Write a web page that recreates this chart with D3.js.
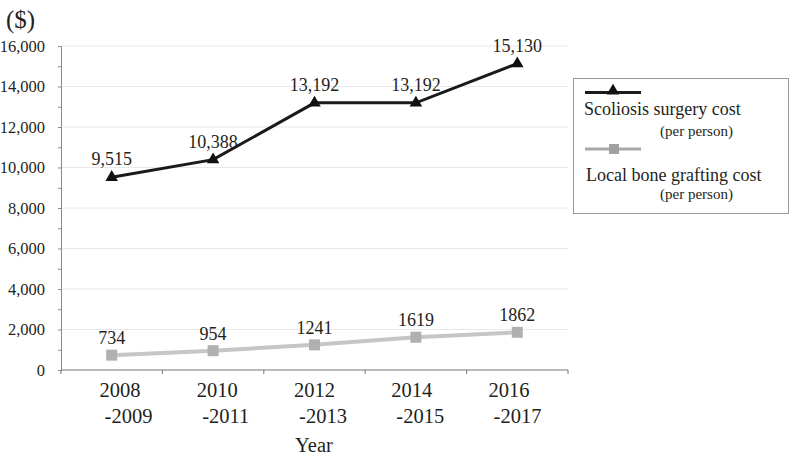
<!DOCTYPE html>
<html><head><meta charset="utf-8">
<script src="https://cdn.jsdelivr.net/npm/d3@7"></script>
</head><body style="margin:0;background:#fff"><svg id="c" width="790" height="458"></svg>
<script>
const categories = [["2008","-2009"],["2010","-2011"],["2012","-2013"],["2014","-2015"],["2016","-2017"]];
const surgery = [9515, 10388, 13192, 13192, 15130];
const surgeryLabels = ["9,515","10,388","13,192","13,192","15,130"];
const grafting = [734, 954, 1241, 1619, 1862];
const graftingLabels = ["734","954","1241","1619","1862"];
const yTicks = [0,2000,4000,6000,8000,10000,12000,14000,16000];

const FF = "Liberation Serif";
const TC = "#231f20";
const svg = d3.select("#c");
const m = {l:61, r:568, t:46, b:370};
const x = d3.scaleBand().domain(d3.range(categories.length)).range([m.l, m.r]);
const xLab = d3.scalePoint().domain(d3.range(categories.length)).range([120, 509]);
const y = d3.scaleLinear().domain([0,16000]).range([m.b, m.t]);

// gridlines
svg.append("g").selectAll("line").data(yTicks.filter(d=>d>0)).join("line")
  .attr("x1", m.l).attr("x2", m.r).attr("y1", d=>y(d)).attr("y2", d=>y(d))
  .attr("stroke","#e8e8e8").attr("stroke-width",1);

// y axis
const ya = svg.append("g").attr("transform",`translate(${m.l},0)`)
  .call(d3.axisLeft(y).tickValues(d3.range(0,16001,1000)).tickSize(3).tickFormat(d=> d%2000===0 ? d3.format(",")(d) : ""));
ya.attr("font-family", FF).attr("font-size",16.5);
ya.select(".domain").attr("stroke","#888");
ya.selectAll(".tick line").attr("stroke","#888");
ya.selectAll("text").attr("x",-16).attr("fill",TC);

// x axis
svg.append("line").attr("x1",m.l).attr("x2",m.r).attr("y1",m.b).attr("y2",m.b).attr("stroke","#777").attr("stroke-width",1.2);
svg.append("g").selectAll("line").data(d3.range(categories.length+1)).join("line")
  .attr("x1",i=>m.l+i*x.step()).attr("x2",i=>m.l+i*x.step()).attr("y1",m.b).attr("y2",m.b+4).attr("stroke","#777");
const xl = svg.append("g").selectAll("text").data(categories).join("text")
  .attr("text-anchor","middle").attr("font-size",20.5).attr("font-family",FF).attr("fill",TC);
xl.append("tspan").attr("x",(d,i)=>xLab(i)).attr("y",397).text(d=>d[0]);
xl.append("tspan").attr("x",(d,i)=>xLab(i)+8.5).attr("y",423).text(d=>d[1]);
svg.append("text").attr("x",314).attr("y",452).attr("text-anchor","middle").attr("font-size",20.5).attr("font-family",FF).attr("fill",TC).text("Year");
svg.append("text").attr("x",6).attr("y",28).attr("font-size",25).attr("font-family",FF).attr("fill",TC).text("($)");

const cx = i => x(i)+x.bandwidth()/2;
const line = d3.line().x((d,i)=>cx(i)).y(d=>y(d));

// grafting
svg.append("path").datum(grafting).attr("d",line).attr("fill","none").attr("stroke","#c6c6c6").attr("stroke-width",4);
svg.append("g").selectAll("rect").data(grafting).join("rect")
  .attr("x",(d,i)=>cx(i)-5.5).attr("y",d=>y(d)-5.5).attr("width",11).attr("height",11).attr("fill","#b0b0b0");
svg.append("g").selectAll("text").data(grafting).join("text")
  .attr("x",(d,i)=>cx(i)).attr("y",d=>y(d)-11).attr("text-anchor","middle").attr("font-size",18).attr("font-family",FF).attr("fill",TC).text((d,i)=>graftingLabels[i]);

// surgery
svg.append("path").datum(surgery).attr("d",line).attr("fill","none").attr("stroke","#1a1a1a").attr("stroke-width",3);
const tri = d3.symbol().type(d3.symbolTriangle).size(68);
svg.append("g").selectAll("path").data(surgery).join("path")
  .attr("d",tri).attr("transform",(d,i)=>`translate(${cx(i)},${y(d)})`).attr("fill","#111");
svg.append("g").selectAll("text").data(surgery).join("text")
  .attr("x",(d,i)=>cx(i)).attr("y",d=>y(d)-12).attr("text-anchor","middle").attr("font-size",18).attr("font-family",FF).attr("fill",TC).text((d,i)=>surgeryLabels[i]);

// legend
const lg = svg.append("g");
lg.append("rect").attr("x",573.5).attr("y",78.5).attr("width",215).attr("height",135).attr("fill","#fff").attr("stroke","#999");
lg.append("line").attr("x1",585).attr("x2",641).attr("y1",92.5).attr("y2",92.5).attr("stroke","#1a1a1a").attr("stroke-width",3);
lg.append("path").attr("d",tri).attr("transform","translate(613,91)").attr("fill","#111");
lg.append("text").attr("x",584).attr("y",115).attr("font-size",18).attr("font-family",FF).attr("fill",TC).text("Scoliosis surgery cost");
lg.append("text").attr("x",660).attr("y",136).attr("font-size",15).attr("font-family",FF).attr("fill",TC).text("(per person)");
lg.append("line").attr("x1",585).attr("x2",641).attr("y1",149).attr("y2",149).attr("stroke","#a8a8a8").attr("stroke-width",3);
lg.append("rect").attr("x",609).attr("y",144).attr("width",10).attr("height",10).attr("fill","#a0a0a0");
lg.append("text").attr("x",586).attr("y",181).attr("font-size",18).attr("font-family",FF).attr("fill",TC).text("Local bone grafting cost");
lg.append("text").attr("x",660).attr("y",199).attr("font-size",15).attr("font-family",FF).attr("fill",TC).text("(per person)");
</script></body></html>
